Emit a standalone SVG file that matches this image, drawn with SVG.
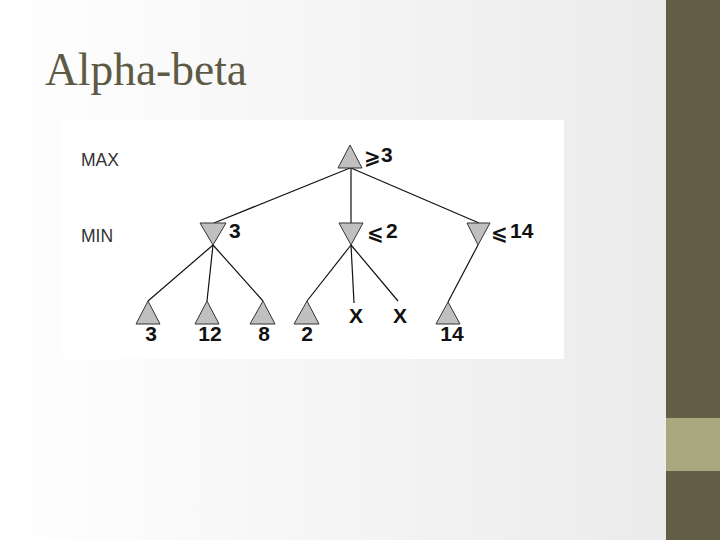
<svg xmlns="http://www.w3.org/2000/svg" width="720" height="540" viewBox="0 0 720 540">
<defs>
<linearGradient id="bg" x1="0" y1="0" x2="1" y2="0">
<stop offset="0" stop-color="#ffffff"/>
<stop offset="1" stop-color="#ebebeb"/>
</linearGradient>
<style>
.tri{fill:#c0c0c0;stroke:#333;stroke-width:1}
.edge{stroke:#111;stroke-width:1.2;fill:none}
.lvl{font-family:"Liberation Sans",Arial,sans-serif;font-size:17.5px;fill:#333}
.val{font-family:"Liberation Sans",Arial,sans-serif;font-weight:bold;font-size:21px;fill:#111}
.sym{font-family:"DejaVu Sans","Liberation Sans",sans-serif;font-weight:bold;font-size:20px;fill:#111}
</style>
</defs>
<rect x="0" y="0" width="666" height="540" fill="url(#bg)"/>
<rect x="666" y="0" width="54" height="540" fill="#655e47"/>
<rect x="666" y="418" width="54" height="53" fill="#a9a77e"/>
<text x="45" y="85" font-family="'Liberation Serif','Times New Roman',serif" font-size="46" fill="#5d5a45" textLength="202" lengthAdjust="spacingAndGlyphs">Alpha-beta</text>
<rect x="62" y="120" width="502" height="239" fill="#ffffff"/>
<text class="lvl" x="81" y="166">MAX</text>
<text class="lvl" x="81" y="242">MIN</text>
<g id="connectors">
<line class="edge" x1="350" y1="168" x2="214" y2="223"/>
<line class="edge" x1="351" y1="168" x2="351" y2="223"/>
<line class="edge" x1="351" y1="168" x2="479" y2="223"/>
<line class="edge" x1="213" y1="245" x2="148" y2="301"/>
<line class="edge" x1="213" y1="245" x2="207" y2="301"/>
<line class="edge" x1="213" y1="245" x2="263" y2="301"/>
<line class="edge" x1="351" y1="245" x2="307" y2="301"/>
<line class="edge" x1="351" y1="245" x2="354" y2="303"/>
<line class="edge" x1="351" y1="245" x2="398" y2="301"/>
<line class="edge" x1="478" y1="245" x2="448" y2="302"/>
</g>
<g id="root">
<polygon class="tri" points="350,145 338,168 362,168"/>
<text class="sym" x="364" y="164" font-size="19">⩾</text>
<text class="val" x="381" y="162" font-size="19">3</text>
</g>
<g id="min1">
<polygon class="tri" points="200,223 226,223 213,245"/>
<text class="val" x="229" y="238">3</text>
</g>
<g id="min2">
<polygon class="tri" points="339,223 363,223 351,245"/>
<text class="sym" x="367" y="240">⩽</text>
<text class="val" x="386" y="238">2</text>
</g>
<g id="min3">
<polygon class="tri" points="467,223 490,223 478,245"/>
<text class="sym" x="491" y="240">⩽</text>
<text class="val" x="510" y="238">14</text>
</g>
<g id="leaf3">
<polygon class="tri" points="148,301 136,324 160,324"/>
<text class="val" x="151" y="341" text-anchor="middle" font-size="20">3</text>
</g>
<g id="leaf12">
<polygon class="tri" points="207,301 195,324 219,324"/>
<text class="val" x="210" y="341" text-anchor="middle" font-size="20">12</text>
</g>
<g id="leaf8">
<polygon class="tri" points="263,301 250,324 275,324"/>
<text class="val" x="264" y="341" text-anchor="middle" font-size="20">8</text>
</g>
<g id="leaf2">
<polygon class="tri" points="307,301 294,324 319,324"/>
<text class="val" x="307" y="341" text-anchor="middle" font-size="20">2</text>
</g>
<g id="x1">
<text class="val" x="356" y="323" text-anchor="middle" font-size="19">X</text>
</g>
<g id="x2">
<text class="val" x="400" y="323" text-anchor="middle" font-size="19">X</text>
</g>
<g id="leaf14">
<polygon class="tri" points="448,302 436,324 460,324"/>
<text class="val" x="452" y="341" text-anchor="middle" font-size="20">14</text>
</g>
</svg>
